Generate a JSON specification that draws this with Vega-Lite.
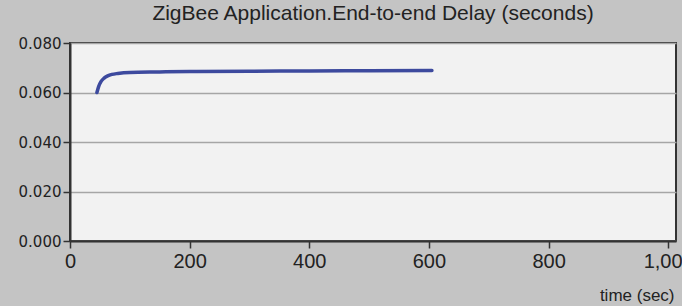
{
  "$schema": "https://vega.github.io/schema/vega-lite/v6.json",
  "autosize": "none",
  "width": 606,
  "height": 198,
  "padding": {"left": 70, "top": 43, "right": 6, "bottom": 65},
  "background": "#c4c4c4",
  "title": {
    "text": "ZigBee Application.End-to-end Delay (seconds)",
    "font": "Liberation Sans",
    "fontSize": 21,
    "fontWeight": "normal",
    "color": "#222222",
    "offset": 12,
    "anchor": "middle"
  },
  "config": {
    "view": {"fill": "#f2f2f2", "stroke": "#333333", "strokeWidth": 2}
  },
  "data": {
    "values": [
      {"t": 45, "delay": 0.0600},
      {"t": 48, "delay": 0.0625},
      {"t": 52, "delay": 0.0645},
      {"t": 57, "delay": 0.0658},
      {"t": 63, "delay": 0.0667},
      {"t": 70, "delay": 0.0673},
      {"t": 80, "delay": 0.0677},
      {"t": 100, "delay": 0.0681},
      {"t": 150, "delay": 0.0683},
      {"t": 200, "delay": 0.0685},
      {"t": 300, "delay": 0.0686},
      {"t": 400, "delay": 0.0687},
      {"t": 500, "delay": 0.0688},
      {"t": 605, "delay": 0.0689}
    ]
  },
  "mark": {"type": "line", "color": "#3d4a9e", "strokeWidth": 3.5, "interpolate": "monotone", "strokeCap": "round"},
  "encoding": {
    "x": {
      "field": "t",
      "type": "quantitative",
      "scale": {"domain": [0, 1013], "nice": false, "zero": false},
      "axis": {
        "values": [0, 200, 400, 600, 800, 1000],
        "format": ",d",
        "grid": false,
        "domainColor": "#333333",
        "domainWidth": 2,
        "tickColor": "#333333",
        "tickWidth": 1.5,
        "tickSize": 7,
        "labelFont": "Liberation Sans",
        "labelFontSize": 20,
        "labelColor": "#222222",
        "labelPadding": 3,
        "labelFlush": false,
        "labelOverlap": false,
        "title": "time (sec)",
        "titleFont": "Liberation Sans",
        "titleFontSize": 17,
        "titleFontWeight": "normal",
        "titleColor": "#222222",
        "titleAnchor": "end",
        "titleAlign": "right",
        "titleX": 604,
        "titleY": 63,
        "titleBaseline": "bottom"
      }
    },
    "y": {
      "field": "delay",
      "type": "quantitative",
      "scale": {"domain": [0, 0.08], "nice": false},
      "axis": {
        "values": [0, 0.02, 0.04, 0.06, 0.08],
        "format": ".3f",
        "grid": true,
        "gridColor": "#a6a6a6",
        "gridWidth": 1.5,
        "domainColor": "#333333",
        "domainWidth": 2,
        "tickColor": "#333333",
        "tickWidth": 1.5,
        "tickSize": 7,
        "labelFont": "DejaVu Sans",
        "labelFontSize": 15,
        "labelColor": "#222222",
        "labelPadding": 2,
        "labelFlush": false,
        "title": null
      }
    }
  }
}
